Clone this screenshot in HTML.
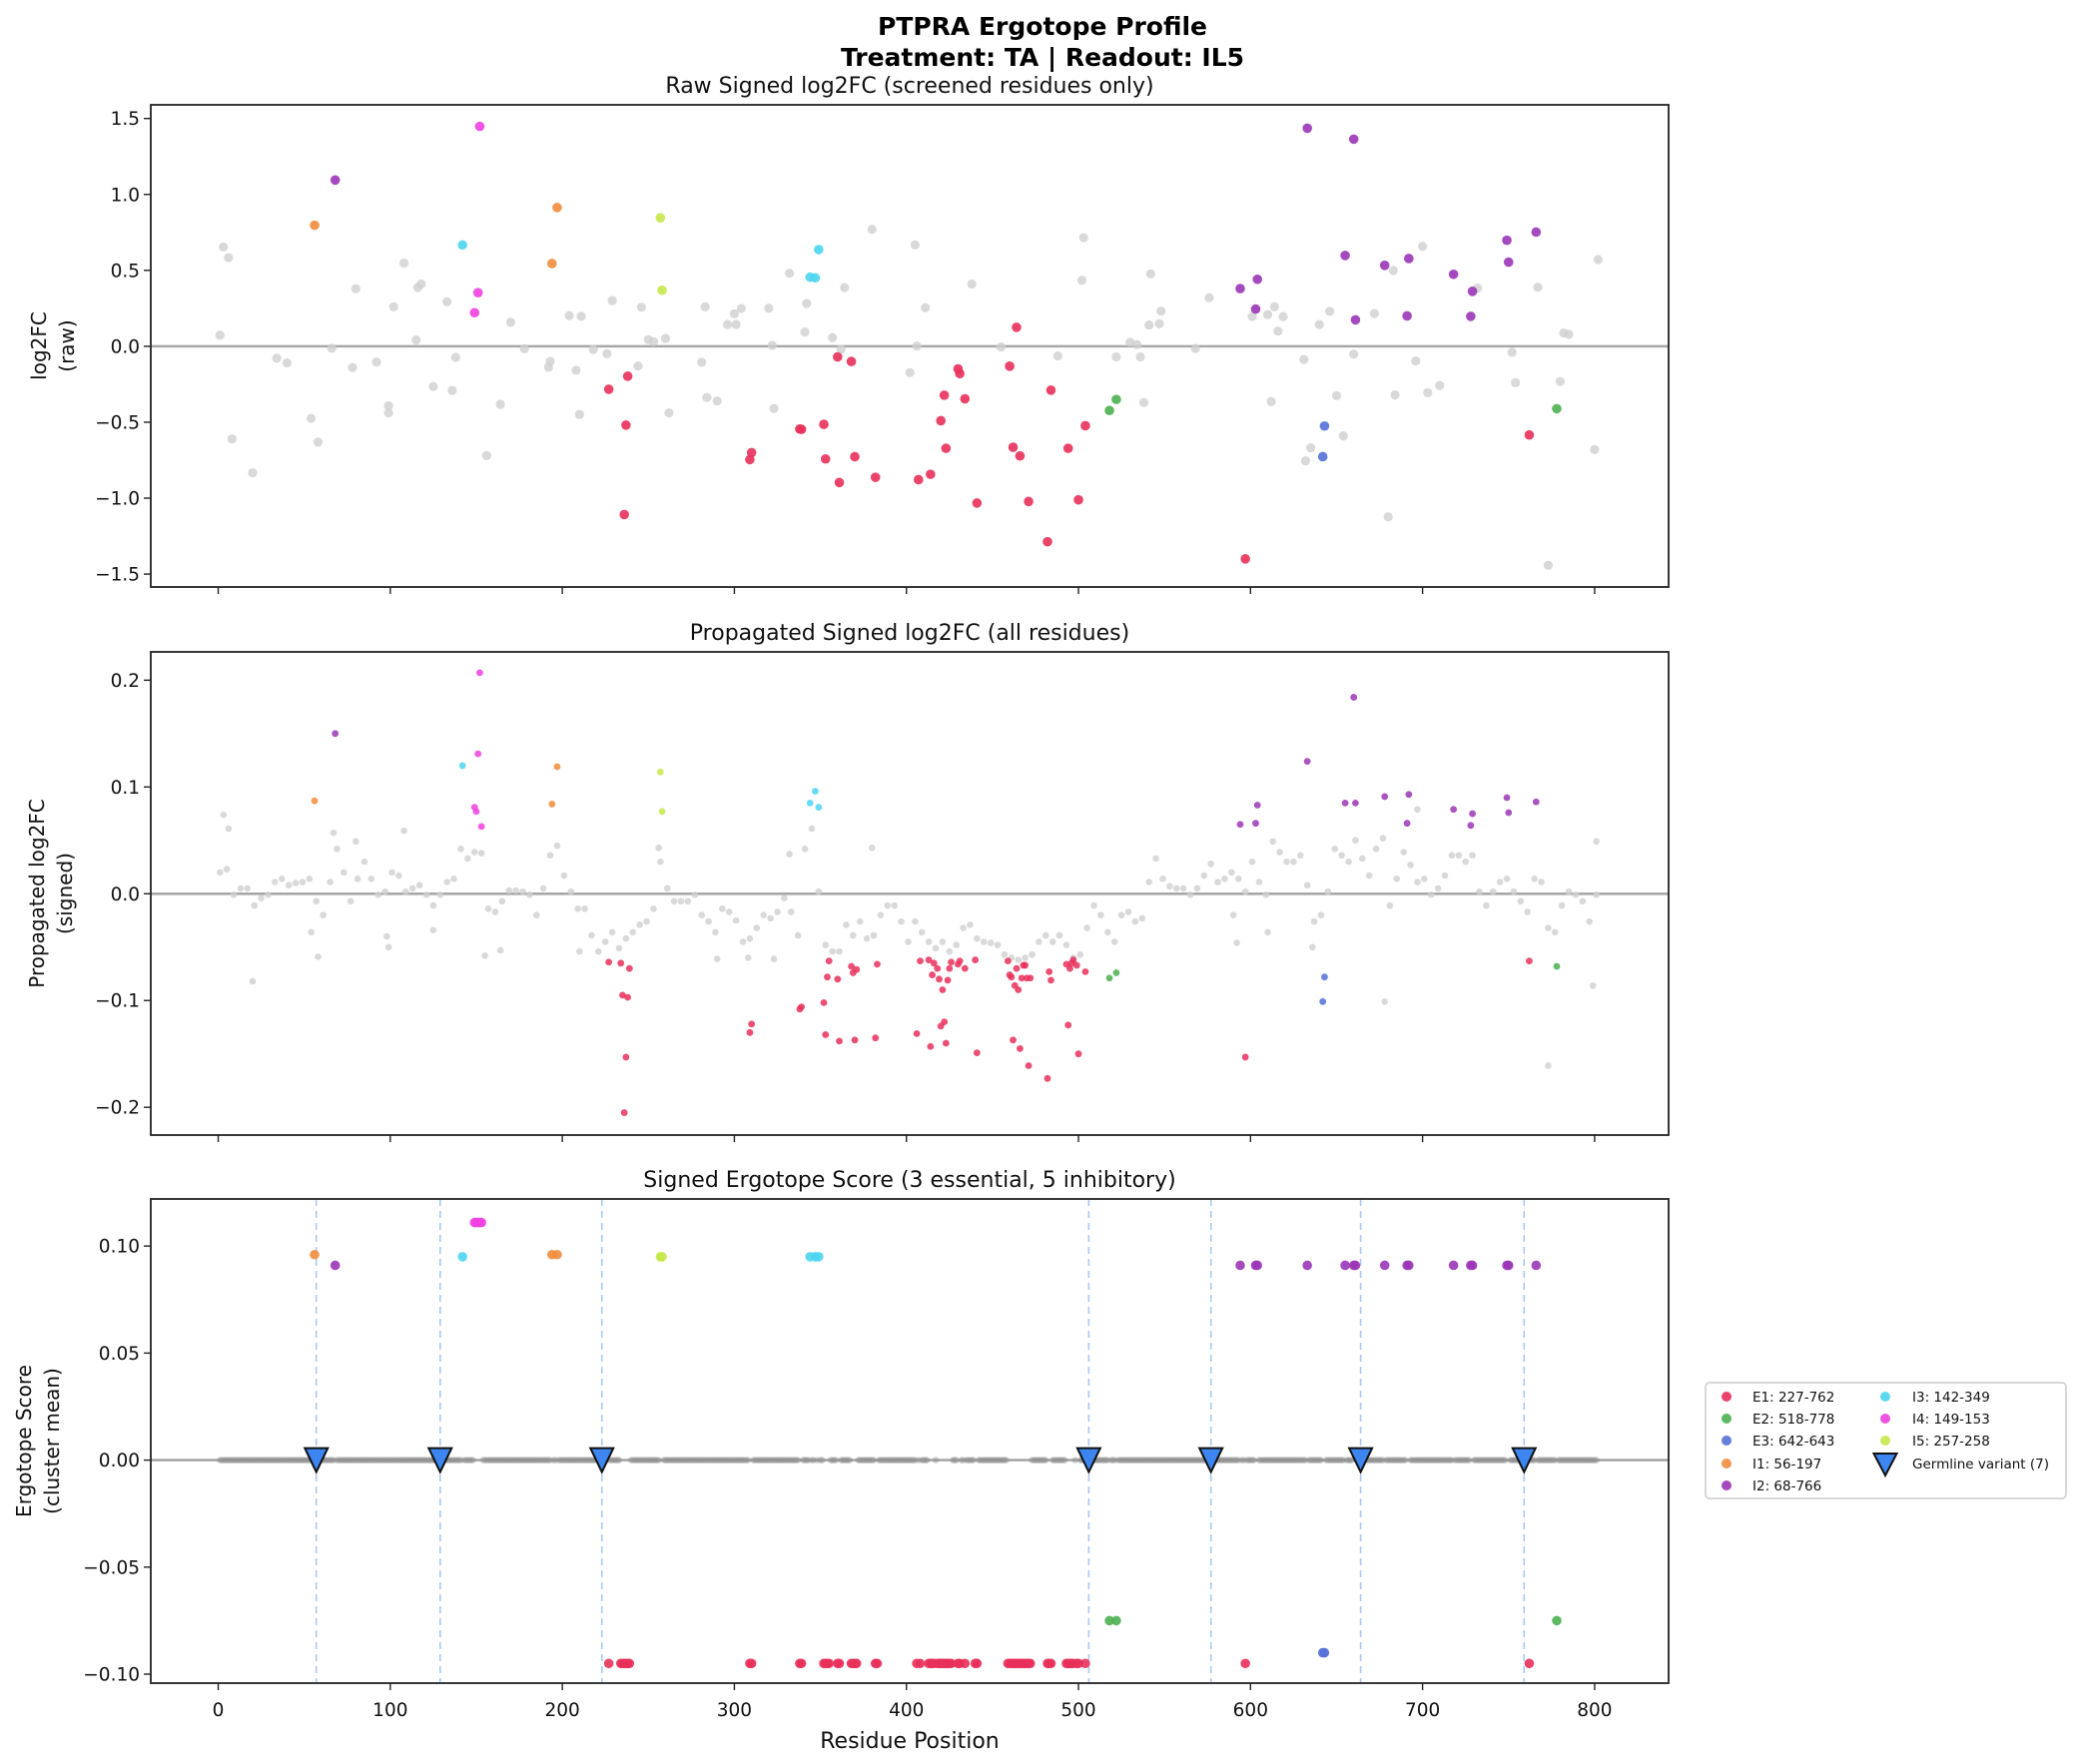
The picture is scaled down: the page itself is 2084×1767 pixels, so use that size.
<!DOCTYPE html>
<html><head><meta charset="utf-8"><style>
html,body{margin:0;padding:0;background:#fff;}
svg{display:block;font-family:"DejaVu Sans","Liberation Sans",sans-serif;}
</style></head><body>
<svg id="fig" width="2084" height="1767" viewBox="0 0 2084 1767" xmlns="http://www.w3.org/2000/svg">
<rect x="0" y="0" width="2084" height="1767" fill="#fff"/>
<text x="1044" y="35" text-anchor="middle" font-size="25" font-weight="bold">PTPRA Ergotope Profile</text>
<text x="1044" y="66" text-anchor="middle" font-size="25" font-weight="bold">Treatment: TA | Readout: IL5</text>
</svg>
<script>
// ---- Data ----
const clusterNames = ["E1","E2","E3","I1","I2","I3","I4","I5"];
const clusterLabels = ["E1: 227-762","E2: 518-778","E3: 642-643","I1: 56-197","I2: 68-766","I3: 142-349","I4: 149-153","I5: 257-258"];
const clusterColors = ["#e8305a","#4cb050","#5470d6","#f28c3c","#9b36b7","#4dd5f0","#f040e0","#c5e84a"];
const clusterScores = [-0.095,-0.075,-0.09,0.096,0.091,0.095,0.111,0.095];

const rawResE1 = [227,236,237,238,309,310,338,339,352,353,360,361,368,370,382,407,414,420,422,423,430,431,434,441,460,462,464,466,471,482,484,494,500,504,597,762];
const rawValE1 = [-0.283,-1.108,-0.519,-0.197,-0.746,-0.70,-0.545,-0.547,-0.514,-0.742,-0.07,-0.897,-0.10,-0.727,-0.863,-0.878,-0.843,-0.49,-0.322,-0.672,-0.149,-0.18,-0.346,-1.032,-0.131,-0.665,0.125,-0.722,-1.022,-1.287,-0.289,-0.672,-1.011,-0.523,-1.40,-0.584];
const rawResE2 = [518,522,778];
const rawValE2 = [-0.423,-0.35,-0.411];
const rawResE3 = [642,643];
const rawValE3 = [-0.727,-0.525];
const rawResI1 = [56,194,197];
const rawValI1 = [0.797,0.545,0.914];
const rawResI2 = [68,594,603,604,633,655,660,661,678,691,692,718,728,729,749,750,766];
const rawValI2 = [1.095,0.38,0.245,0.441,1.436,0.598,1.364,0.174,0.533,0.2,0.578,0.474,0.197,0.362,0.698,0.554,0.752];
const rawResI3 = [142,344,347,349];
const rawValI3 = [0.667,0.455,0.451,0.637];
const rawResI4 = [149,151,152];
const rawValI4 = [0.221,0.353,1.448];
const rawResI5 = [257,258];
const rawValI5 = [0.846,0.369];

const propResE1 = [227,234,235,236,237,238,239,309,310,338,339,352,353,354,355,360,361,368,369,370,371,382,383,406,408,413,414,415,416,418,419,420,421,422,423,424,425,426,430,431,434,440,441,459,460,461,462,463,464,465,466,467,468,469,470,471,472,482,483,484,493,494,495,496,497,499,500,504,597,762];
const propValE1 = [-0.064,-0.065,-0.095,-0.205,-0.153,-0.097,-0.07,-0.13,-0.122,-0.108,-0.106,-0.102,-0.132,-0.078,-0.063,-0.08,-0.138,-0.068,-0.074,-0.137,-0.071,-0.135,-0.066,-0.131,-0.063,-0.062,-0.143,-0.076,-0.065,-0.07,-0.08,-0.124,-0.09,-0.12,-0.14,-0.081,-0.07,-0.064,-0.066,-0.063,-0.07,-0.062,-0.149,-0.063,-0.076,-0.078,-0.137,-0.086,-0.07,-0.09,-0.145,-0.079,-0.067,-0.067,-0.079,-0.161,-0.079,-0.173,-0.073,-0.081,-0.066,-0.123,-0.07,-0.065,-0.062,-0.067,-0.15,-0.073,-0.153,-0.063];
const propResE2 = [518,522,778];
const propValE2 = [-0.079,-0.074,-0.068];
const propResE3 = [642,643];
const propValE3 = [-0.101,-0.078];
const propResI1 = [56,194,197];
const propValI1 = [0.087,0.084,0.119];
const propResI2 = [68,594,603,604,633,655,660,661,678,691,692,718,728,729,749,750,766];
const propValI2 = [0.15,0.065,0.066,0.083,0.124,0.085,0.184,0.085,0.091,0.066,0.093,0.079,0.064,0.075,0.09,0.076,0.086];
const propResI3 = [142,344,347,349];
const propValI3 = [0.12,0.085,0.096,0.081];
const propResI4 = [149,150,151,152,153];
const propValI4 = [0.081,0.077,0.131,0.207,0.063];
const propResI5 = [257,258];
const propValI5 = [0.114,0.077];

const grayRawRes = [1,3,6,8,20,34,40,54,58,66,78,80,92,99,99,102,108,115,116,118,125,133,136,138,156,164,170,178,192,193,204,208,210,211,218,226,229,244,246,250,253,260,262,281,283,284,290,296,300,301,304,320,322,323,332,341,342,357,362,364,380,402,405,406,411,438,455,488,502,503,522,530,534,536,538,541,542,547,548,568,576,601,610,612,614,616,619,631,632,635,640,646,650,654,660,672,680,683,684,696,700,703,710,732,752,754,767,773,780,782,785,800,802];
const grayRawVal = [0.073,0.654,0.584,-0.61,-0.833,-0.078,-0.109,-0.475,-0.631,-0.013,-0.14,0.379,-0.104,-0.392,-0.439,0.26,0.548,0.042,0.387,0.41,-0.265,0.293,-0.29,-0.073,-0.72,-0.382,0.158,-0.016,-0.138,-0.099,0.202,-0.158,-0.449,0.197,-0.021,-0.049,0.301,-0.13,0.257,0.044,0.031,0.052,-0.439,-0.105,0.26,-0.337,-0.36,0.144,0.214,0.144,0.249,0.251,0.006,-0.41,0.481,0.094,0.282,0.057,-0.02,0.387,0.77,-0.173,0.667,0.002,0.254,0.41,-0.004,-0.063,0.435,0.715,-0.07,0.026,0.011,-0.07,-0.37,0.14,0.477,0.149,0.232,-0.015,0.32,0.196,0.209,-0.364,0.26,0.1,0.196,-0.087,-0.754,-0.669,0.143,0.23,-0.325,-0.59,-0.052,0.216,-1.123,0.499,-0.32,-0.097,0.658,-0.306,-0.258,0.384,-0.039,-0.24,0.389,-1.442,-0.232,0.088,0.079,-0.68,0.571];

// propagated gray values sampled every 4 residues starting at residue 1
const grayPropVal = [0.02,0.023,-0.001,0.005,0.005,-0.011,-0.004,-0.001,0.011,0.014,0.008,0.01,0.011,0.014,-0.007,-0.02,0.011,0.042,0.02,-0.007,0.014,0.03,0.014,-0.001,0.002,0.02,0.017,0.002,0.005,0.008,-0.001,-0.011,-0.001,0.011,0.014,0.042,0.033,0.039,0.038,-0.014,-0.017,-0.007,0.003,0.003,0.002,-0.001,-0.02,0.005,0.036,0.045,0.017,0.002,-0.014,-0.014,-0.039,-0.054,-0.045,-0.036,-0.051,-0.042,-0.036,-0.029,-0.026,-0.014,0.03,0.005,-0.007,-0.007,-0.007,-0.001,-0.02,-0.026,-0.036,-0.014,-0.017,-0.025,-0.045,-0.042,-0.032,-0.02,-0.023,-0.017,-0.004,-0.017,-0.039,0.042,0.061,0.002,-0.048,-0.054,-0.054,-0.029,-0.039,-0.026,-0.042,-0.039,-0.02,-0.011,-0.011,-0.026,-0.045,-0.026,-0.036,-0.045,-0.051,-0.045,-0.054,-0.048,-0.032,-0.029,-0.042,-0.045,-0.046,-0.048,-0.057,-0.06,-0.062,-0.06,-0.057,-0.045,-0.039,-0.045,-0.039,-0.048,-0.06,-0.057,-0.032,-0.011,-0.02,-0.036,-0.045,-0.02,-0.017,-0.026,-0.023,0.011,0.033,0.014,0.007,0.005,0.005,-0.001,0.005,0.017,0.028,0.011,0.014,0.02,0.014,0.002,0.03,0.011,-0.001,0.049,0.039,0.03,0.03,0.036,0.008,-0.026,-0.02,0.002,0.042,0.036,0.03,0.05,0.033,0.017,0.042,0.052,-0.011,0.014,0.039,0.027,0.011,0.014,-0.001,0.005,0.017,0.036,0.036,0.03,0.036,0.002,-0.011,0.002,0.011,0.014,0.002,-0.007,-0.017,0.014,0.011,-0.032,-0.036,-0.011,0.002,-0.001,-0.007,-0.026,-0.001];
const grayPropExtraRes = [3,6,20,54,58,67,80,98,99,108,125,155,164,210,256,290,308,323,332,380,590,592,610,636,678,697,773,799,801];
const grayPropExtraVal = [0.074,0.061,-0.082,-0.036,-0.059,0.057,0.049,-0.04,-0.05,0.059,-0.034,-0.058,-0.053,-0.054,0.043,-0.061,-0.06,-0.061,0.037,0.043,-0.02,-0.046,-0.036,-0.05,-0.101,0.079,-0.161,-0.086,0.049];

const germlineRes = [57,129,223,506,577,664,759];

const xTicks = [0,100,200,300,400,500,600,700,800];
const p1Ticks = [-1.5,-1.0,-0.5,0.0,0.5,1.0,1.5];
const p1TickLabels = ["\u22121.5","\u22121.0","\u22120.5","0.0","0.5","1.0","1.5"];
const p2Ticks = [-0.2,-0.1,0.0,0.1,0.2];
const p2TickLabels = ["\u22120.2","\u22120.1","0.0","0.1","0.2"];
const p3Ticks = [-0.10,-0.05,0.0,0.05,0.10];
const p3TickLabels = ["\u22120.10","\u22120.05","0.00","0.05","0.10"];

const rawRes = [rawResE1,rawResE2,rawResE3,rawResI1,rawResI2,rawResI3,rawResI4,rawResI5];
const rawVal = [rawValE1,rawValE2,rawValE3,rawValI1,rawValI2,rawValI3,rawValI4,rawValI5];
const propRes = [propResE1,propResE2,propResE3,propResI1,propResI2,propResI3,propResI4,propResI5];
const propVal = [propValE1,propValE2,propValE3,propValI1,propValI2,propValI3,propValI4,propValI5];

// ---- Layout ----
const NS = "http://www.w3.org/2000/svg";
const svg = document.getElementById('fig');
const AX_L = 151, AX_R = 1671, XMIN = -39.2, XMAX = 843;
function xS(r){ return AX_L + (r - XMIN) / (XMAX - XMIN) * (AX_R - AX_L); }
const panels = [
  {top:105, bot:588, ymin:-1.585, ymax:1.59},
  {top:653, bot:1137, ymin:-0.226, ymax:0.2265},
  {top:1201, bot:1686, ymin:-0.1042, ymax:0.122}
];
function yS(p, v){ return p.bot - (v - p.ymin) / (p.ymax - p.ymin) * (p.bot - p.top); }
function mk(tag, attrs, parent){
  const e = document.createElementNS(NS, tag);
  for (const k in attrs) e.setAttribute(k, attrs[k]);
  (parent || svg).appendChild(e);
  return e;
}
function txt(s, attrs, parent){ const t = mk('text', attrs, parent); t.textContent = s; return t; }

function drawAxes(p, idx, ticks, labels, title, ylab1, ylab2, ylabX1, ylabX2, showXLabels){
  const g = mk('g', {});
  
  
  p.g = g;
  // zero line
  const z = mk('line', {x1:AX_L, x2:AX_R, y1:yS(p,0), y2:yS(p,0), stroke:'#a8a8a8', 'stroke-width':2.6}, g);
  
  
  // y ticks
  ticks.forEach((t,i)=>{
    const y = yS(p,t);
    const tk = mk('line', {x1:AX_L-7, x2:AX_L, y1:y, y2:y, stroke:'#222', 'stroke-width':1.4}, g);
    
    
    const tl = txt(labels[i], {x:AX_L-11, y:y+6.5, 'text-anchor':'end', 'font-size':18.5, fill:'#111'}, g);
    
    
  });
  // x ticks
  xTicks.forEach(t=>{
    const x = xS(t);
    const tk = mk('line', {x1:x, x2:x, y1:p.bot, y2:p.bot+7, stroke:'#222', 'stroke-width':1.4}, g);
    
    
    if (showXLabels){
      const tl = txt(String(t), {x:x, y:p.bot+33, 'text-anchor':'middle', 'font-size':18.5, fill:'#111'}, g);
      
      
    }
  });
  const tt = txt(title, {x:(AX_L+AX_R)/2, y:p.top-12, 'text-anchor':'middle', 'font-size':22, fill:'#111'}, g);
  
  
  const cy = (p.top+p.bot)/2;
  const l1 = txt(ylab1, {x:0, y:0, transform:`translate(${ylabX1},${cy}) rotate(-90)`, 'text-anchor':'middle', 'font-size':20, fill:'#111'}, g);
  
  
  const l2 = txt(ylab2, {x:0, y:0, transform:`translate(${ylabX2},${cy}) rotate(-90)`, 'text-anchor':'middle', 'font-size':20, fill:'#111'}, g);
  
  
}
function frame(p){
  const r = mk('rect', {x:AX_L, y:p.top, width:AX_R-AX_L, height:p.bot-p.top, fill:'none', stroke:'#222', 'stroke-width':1.8}, p.g);
  
  
}
function dot(p, r, v, rad, fill, op, name){
  const c = mk('circle', {cx:xS(r), cy:yS(p,v), r:rad, fill:fill, 'fill-opacity':op}, p.g);
  
  
  return c;
}

// Panel 1
const P1 = panels[0], P2 = panels[1], P3 = panels[2];
drawAxes(P1, 0, p1Ticks, p1TickLabels, 'Raw Signed log2FC (screened residues only)', 'log2FC', '(raw)', 46, 74, false);
grayRawRes.forEach((r,i)=>{ dot(P1, r, grayRawVal[i], 4.6, '#cfcfcf', 0.8, 'raw-point-unclustered'); });
rawRes.forEach((arr,k)=>{ arr.forEach((r,i)=>{ dot(P1, r, rawVal[k][i], 4.8, clusterColors[k], 0.9, 'raw-point-' + clusterNames[k].toLowerCase()); }); });
frame(P1);

// Panel 2
drawAxes(P2, 1, p2Ticks, p2TickLabels, 'Propagated Signed log2FC (all residues)', 'Propagated log2FC', '(signed)', 44, 72, false);
grayPropVal.forEach((v,i)=>{ dot(P2, 1 + 4*i, v, 3.3, '#cfcfcf', 0.8, 'prop-point-unclustered'); });
grayPropExtraRes.forEach((r,i)=>{ dot(P2, r, grayPropExtraVal[i], 3.3, '#cfcfcf', 0.8, 'prop-point-unclustered'); });
propRes.forEach((arr,k)=>{ arr.forEach((r,i)=>{ dot(P2, r, propVal[k][i], 3.4, clusterColors[k], 0.85, 'prop-point-' + clusterNames[k].toLowerCase()); }); });
frame(P2);

// Panel 3
drawAxes(P3, 2, p3Ticks, p3TickLabels, 'Signed Ergotope Score (3 essential, 5 inhibitory)', 'Ergotope Score', '(cluster mean)', 31, 59, true);
germlineRes.forEach(r=>{
  const l = mk('line', {x1:xS(r), x2:xS(r), y1:P3.top, y2:P3.bot, stroke:'#a9c8f5', 'stroke-width':1.6, 'stroke-dasharray':'7,5'}, P3.g);
  
  
});
const clustered = new Set();
propRes.forEach(arr=>arr.forEach(r=>clustered.add(r)));
for (let r = 1; r <= 801; r++){
  if (clustered.has(r)) continue;
  dot(P3, r, 0, 3.2, '#909090', 0.45, 'score-point-unclustered');
}
propRes.forEach((arr,k)=>{ arr.forEach(r=>{ dot(P3, r, clusterScores[k], 4.8, clusterColors[k], 0.9, 'score-point-' + clusterNames[k].toLowerCase()); }); });
germlineRes.forEach(r=>{
  const x = xS(r), y = yS(P3,0);
  const t = mk('polygon', {points:`${x-11.5},${y-12} ${x+11.5},${y-12} ${x},${y+12}`, fill:'#3d85f0', stroke:'#111', 'stroke-width':2, 'stroke-linejoin':'miter'}, P3.g);
  
  
});
frame(P3);

const xl = txt('Residue Position', {x:(AX_L+AX_R)/2, y:1751, 'text-anchor':'middle', 'font-size':22, fill:'#111'});



// Legend
const lg = mk('g', {});


const lbox = mk('rect', {x:1708, y:1385, width:361, height:116, rx:4, fill:'#fff', stroke:'#cccccc', 'stroke-width':1.5}, lg);


const rowsY = [1399, 1421, 1443, 1466, 1488];
clusterLabels.forEach((lab,k)=>{
  const col = k < 5 ? 0 : 1;
  const row = k < 5 ? k : k - 5;
  const mx = col ? 1888 : 1729, tx = col ? 1915 : 1755;
  const c = mk('circle', {cx:mx, cy:rowsY[row], r:5, fill:clusterColors[k], 'fill-opacity':0.9}, lg);
  
  
  const t = txt(lab, {x:tx, y:rowsY[row]+5, 'font-size':13.5, fill:'#111'}, lg);
  
  
});
const gt = mk('polygon', {points:'1876.5,1456 1899.5,1456 1888,1478', fill:'#3d85f0', stroke:'#111', 'stroke-width':2}, lg);


const gtt = txt('Germline variant (7)', {x:1915, y:1471, 'font-size':13.5, fill:'#111'}, lg);


</script>
</body></html>
